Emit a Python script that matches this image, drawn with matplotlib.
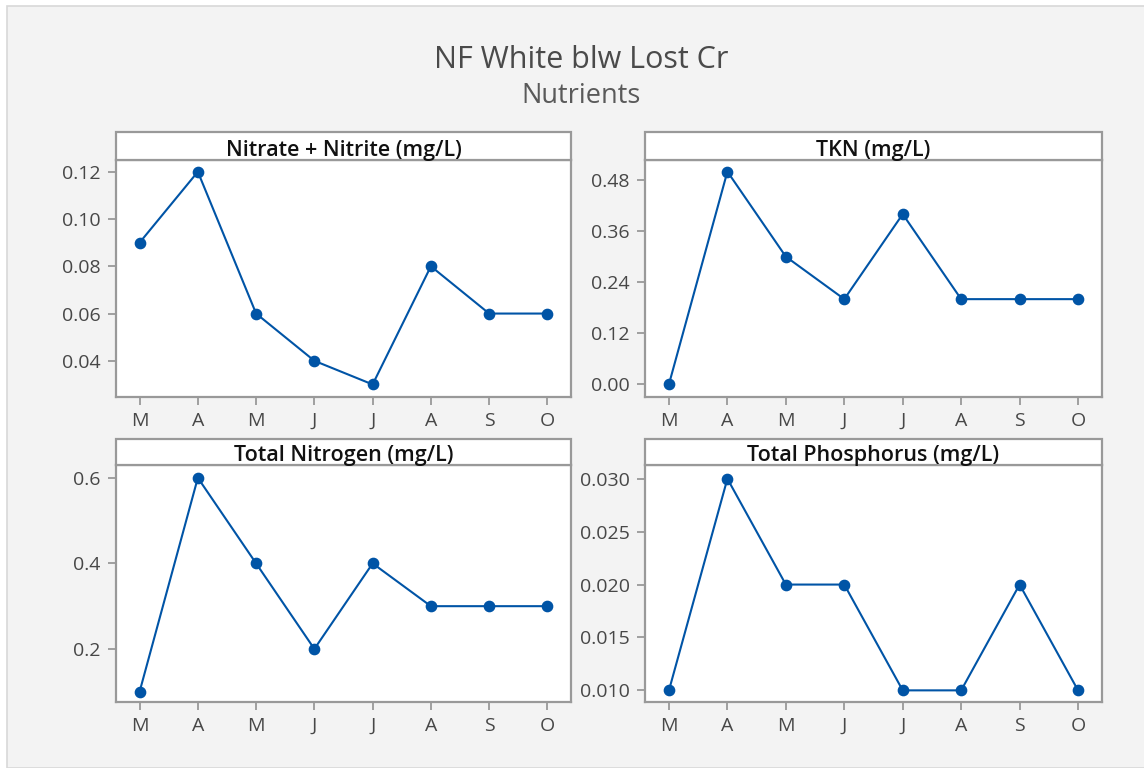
import matplotlib
matplotlib.use("Agg")
import matplotlib.pyplot as plt
from matplotlib.patches import Rectangle
import matplotlib.ticker as mticker

plt.rcParams['font.family'] = ['Open Sans', 'DejaVu Sans']

months = ["M", "A", "M", "J", "J", "A", "S", "O"]
nitrate = [0.09, 0.12, 0.06, 0.04, 0.03, 0.08, 0.06, 0.06]
tkn = [0.0, 0.50, 0.30, 0.20, 0.40, 0.20, 0.20, 0.20]
total_n = [0.1, 0.6, 0.4, 0.2, 0.4, 0.3, 0.3, 0.3]
total_p = [0.01, 0.03, 0.02, 0.02, 0.01, 0.01, 0.02, 0.01]

titles = ["Nitrate + Nitrite (mg/L)", "TKN (mg/L)", "Total Nitrogen (mg/L)", "Total Phosphorus (mg/L)"]
series = [nitrate, tkn, total_n, total_p]
yticks = [[0.04, 0.06, 0.08, 0.10, 0.12],
          [0.00, 0.12, 0.24, 0.36, 0.48],
          [0.2, 0.4, 0.6],
          [0.010, 0.015, 0.020, 0.025, 0.030]]
ylims = [(0.0249, 0.1251), (-0.029, 0.528), (0.076, 0.630), (0.0089, 0.0313)]
fmts = ["%.2f", "%.2f", "%.1f", "%.3f"]

W, H = 1144, 768
fig = plt.figure(figsize=(W / 100, H / 100), dpi=100)
fig.patch.set_facecolor("white")
# background panel
bg = Rectangle((7 / W, 0), 1, 1 - 6 / H, transform=fig.transFigure,
               facecolor="#f3f3f3", edgecolor="#d8d8d8", linewidth=1.2, zorder=-10)
fig.patches.append(bg)

fig.text(581 / W, 1 - 60 / H, "NF White blw Lost Cr", ha="center", va="center",
         fontsize=22, color="#4a4a4a")
fig.text(581 / W, 1 - 96 / H, "Nutrients", ha="center", va="center",
         fontsize=19.5, color="#5a5a5a")

boxes = [(115.7, 571.3, 159.7, 396.5, 132),
         (645, 1102, 159.7, 396.5, 132),
         (115.7, 571.3, 465, 702, 439),
         (645, 1102, 465, 702, 439)]

spine_c = "#999999"
line_c = "#0054a6"
x = list(range(len(months)))

for i, (l, r, t, b, ht) in enumerate(boxes):
    ax = fig.add_axes([l / W, 1 - b / H, (r - l) / W, (b - t) / H])
    ax.set_facecolor("white")
    ax.plot(x, series[i], color=line_c, linewidth=1.5, marker="o", markersize=7.4,
            markerfacecolor=line_c, markeredgecolor=line_c)
    ax.set_xlim(-0.41, 7.41)
    ax.set_ylim(*ylims[i])
    ax.set_xticks(x)
    ax.set_xticklabels(months)
    ax.set_yticks(yticks[i])
    ax.yaxis.set_major_formatter(mticker.FormatStrFormatter(fmts[i]))
    for s in ax.spines.values():
        s.set_color(spine_c)
        s.set_linewidth(1.6)
    ax.tick_params(axis="both", direction="out", length=6, width=1.3, color=spine_c,
                   labelsize=14, labelcolor="#474747", pad=5)
    for lab in ax.get_xticklabels() + ax.get_yticklabels():
        lab.set_fontweight("medium")
    # header box
    hh = (t - ht) / (b - t)
    ax.add_patch(Rectangle((0, 1), 1, hh, transform=ax.transAxes, facecolor="white",
                           edgecolor=spine_c, linewidth=1.6, clip_on=False, zorder=3))
    ax.text(0.5, 1 + 0.35 * hh, titles[i], transform=ax.transAxes, ha="center", va="center",
            fontsize=15.5, fontweight="semibold", color="#111111", zorder=4)

fig.savefig("out.png", dpi=100, facecolor=fig.get_facecolor())
